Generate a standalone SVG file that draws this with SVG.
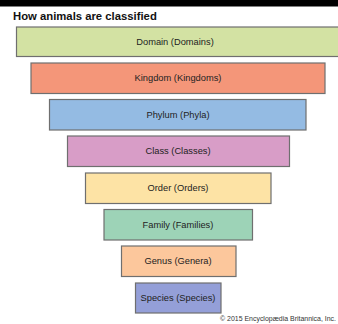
<svg xmlns="http://www.w3.org/2000/svg" width="338" height="324" viewBox="0 0 338 324">
<style>
.box{stroke:#6f6f6f;stroke-width:1.2}
.lbl{font-family:"Liberation Sans",Arial,sans-serif;font-size:9.3px;fill:#222;text-anchor:middle;dominant-baseline:central}
.title{font-family:"Liberation Sans",Arial,sans-serif;font-size:11.3px;font-weight:bold;fill:#111}
.copy{font-family:"Liberation Sans",Arial,sans-serif;font-size:7px;fill:#333}
</style>
<rect x="0" y="0" width="338" height="324" fill="#fff"/>
<rect x="0" y="0" width="338" height="6.5" fill="#000"/>
<text class="title" x="13" y="20">How animals are classified</text>
<g id="domain"><rect class="box" x="16.5" y="27" width="324" height="29.5" fill="#d3e2a3"/><text class="lbl" x="175" y="42">Domain (Domains)</text></g>
<g id="kingdom"><rect class="box" x="31" y="63" width="294" height="30.5" fill="#f49679"/><text class="lbl" x="178" y="78">Kingdom (Kingdoms)</text></g>
<g id="phylum"><rect class="box" x="49.5" y="99.5" width="256.5" height="30.5" fill="#94bbe3"/><text class="lbl" x="178" y="115">Phylum (Phyla)</text></g>
<g id="class"><rect class="box" x="67.5" y="136" width="222" height="30.5" fill="#d89dc7"/><text class="lbl" x="178" y="151">Class (Classes)</text></g>
<g id="order"><rect class="box" x="85.5" y="173" width="185.5" height="30.5" fill="#fde3a5"/><text class="lbl" x="178" y="188">Order (Orders)</text></g>
<g id="family"><rect class="box" x="104" y="209.5" width="148.5" height="30.5" fill="#9dd3b7"/><text class="lbl" x="178" y="224.5">Family (Families)</text></g>
<g id="genus"><rect class="box" x="121.5" y="246" width="114.5" height="30.5" fill="#fcc79c"/><text class="lbl" x="178" y="261">Genus (Genera)</text></g>
<g id="species"><rect class="box" x="135.5" y="283" width="85.5" height="30" fill="#949fd8"/><text class="lbl" x="178" y="298">Species (Species)</text></g>
<g id="connectors"></g>
<text class="copy" x="220" y="321" textLength="116" lengthAdjust="spacingAndGlyphs">© 2015 Encyclopædia Britannica, Inc.</text>
</svg>
